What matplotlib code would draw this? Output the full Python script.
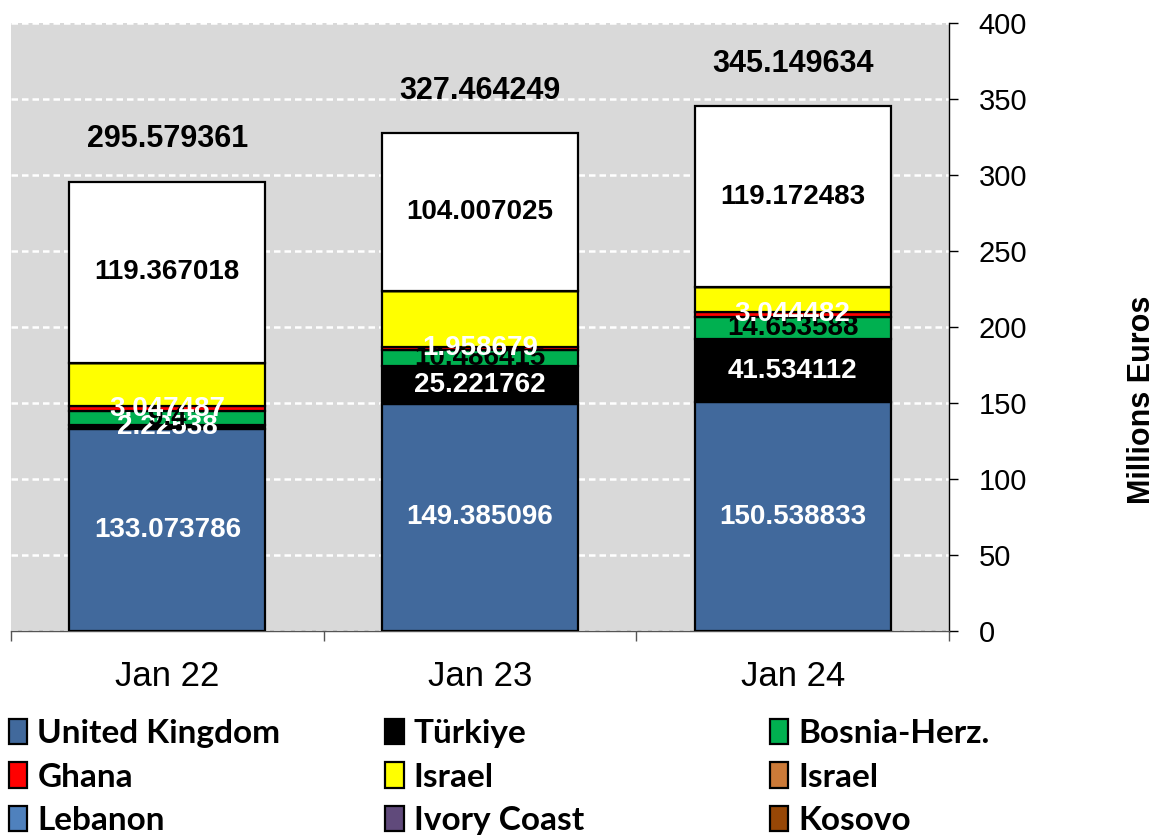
import numpy as np
import matplotlib.pyplot as plt
import matplotlib.patches as mpatches

# data
months = ['Jan 22', 'Jan 23', 'Jan 24']
uk = [133.073786, 149.385096, 150.538833]
turkiye = [2.22538, 25.221762, 41.534112]
bosnia = [9.4, 10.486415, 14.653588]
ghana = [3.047487, 1.958679, 3.044482]
israel = [28.46, 36.405272, 16.206136]
israel2 = [0, 0, 0]
lebanon = [0, 0, 0]
ivory = [0, 0, 0]
kosovo = [0, 0, 0]
others = [119.367018, 104.007025, 119.172483]
totals = [295.579361, 327.464249, 345.149634]

series = [
    ('United Kingdom', uk, '#41699c', 'white'),
    ('Türkiye', turkiye, '#000000', 'white'),
    ('Bosnia-Herz.', bosnia, '#00b050', 'black'),
    ('Ghana', ghana, '#ff0000', 'white'),
    ('Israel', israel, '#ffff00', None),
    ('Israel', israel2, '#cc7a38', None),
    ('Lebanon', lebanon, '#4f81bd', None),
    ('Ivory Coast', ivory, '#604a7b', None),
    ('Kosovo', kosovo, '#974706', None),
    ('Others', others, '#ffffff', 'black'),
]

fig = plt.figure(figsize=(11.62, 8.35), dpi=100)
ax = fig.add_axes([0.0095, 0.2443, 0.8072, 0.7282])
ax.set_facecolor('#d9d9d9')

x = np.arange(len(months))
bottom = np.zeros(len(months))
handles = []
for name, vals, col, lcol in series:
    vals = np.array(vals, dtype=float)
    bars = ax.bar(x, vals, 0.627, bottom=bottom, color=col, edgecolor='black',
                  linewidth=1.6, zorder=3)
    handles.append(mpatches.Patch(facecolor=col, edgecolor='black', linewidth=1.6, label=name))
    if lcol is not None:
        for xi, v, b in zip(x, vals, bottom):
            ax.text(xi, b + v / 2, f'{v:.6f}'.rstrip('0').rstrip('.'),
                    ha='center', va='center', color=lcol, fontsize=20,
                    fontweight='bold', family='Liberation Sans', zorder=5)
    bottom += vals

for xi, t in zip(x, totals):
    ax.text(xi, t + 28, f'{t:.6f}', ha='center', va='center', fontsize=22,
            fontweight='bold', family='Liberation Sans', zorder=5)

ax.set_xlim(-0.5, 2.5)
ax.set_ylim(0, 400)
ax.set_yticks(np.arange(0, 401, 50))
ax.yaxis.tick_right()
ax.yaxis.set_label_position('right')
ax.tick_params(axis='y', length=6.5, width=1, pad=15, labelsize=21, direction='out')
for lab in ax.get_yticklabels():
    lab.set_family('Liberation Sans')

ax.set_xticks(x, months)
ax.set_xticks([-0.5, 0.5, 1.5, 2.5], minor=True)
ax.tick_params(axis='x', which='major', length=0, pad=21, labelsize=25)
ax.tick_params(axis='x', which='minor', length=7.5, width=1, color='#555555')
for lab in ax.get_xticklabels():
    lab.set_family('Liberation Sans')

ax.grid(axis='y', color='white', linestyle=(0, (2.6, 1.6)), linewidth=1.8, zorder=1)
ax.set_axisbelow(True)

for s in ['top', 'left']:
    ax.spines[s].set_visible(False)
ax.spines['right'].set_linewidth(1)
ax.spines['bottom'].set_color('#555555')
ax.spines['bottom'].set_linewidth(1)

ax.set_ylabel('Millions Euros', fontsize=22, fontweight='bold', family='Liberation Sans')
ax.yaxis.set_label_coords(1.19, 0.38)

# legend: three columns, filled row-wise
cols_x = [0.002, 0.326, 0.657]
for c in range(3):
    hs = [handles[c], handles[c + 3], handles[c + 6]]
    fig.legend(handles=hs, loc='upper left', bbox_to_anchor=(cols_x[c], 0.147),
               frameon=False, prop={'family': 'Lato', 'weight': 'bold', 'size': 24},
               handlelength=0.55, handleheight=0.8, handletextpad=0.3,
               labelspacing=0.42, borderaxespad=0, borderpad=0.2)

fig.savefig('out.png', dpi=100)
